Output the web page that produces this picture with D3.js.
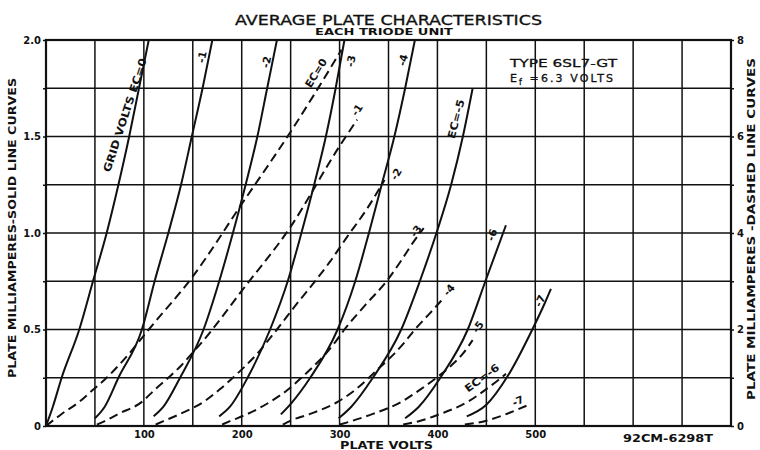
<!DOCTYPE html>
<html><head><meta charset="utf-8">
<script src="https://cdn.jsdelivr.net/npm/d3@7"></script>
<style>
html,body{margin:0;padding:0;background:#fff;}
svg{display:block;}
text{font-family:"DejaVu Sans",sans-serif;font-weight:bold;fill:#111;}
</style></head><body>
<svg id="chart" width="760" height="450"></svg>
<script>
// ---------- DATA ----------
const xTickValues = [100, 200, 300, 400, 500];
const leftTickValues = [0, 0.5, 1.0, 1.5, 2.0];
const leftTickLabels = ["0", "0.5", "1.0", "1.5", "2.0"];
const rightTickValues = [0, 2, 4, 6, 8];
const rightTickLabels = ["0", "2", "4", "6", "8"];

// Solid curves: plate volts vs plate mA (left axis, 0-2 mA)
const solidEc0 = [[0,0],[7,0.1],[16,0.25],[34,0.5],[48,0.75],[62,1.0],[74,1.25],[85,1.5],[95,1.75],[105,2.0]];
const solidEc1 = [[50,0.04],[60,0.1],[74,0.25],[98,0.5],[111,0.75],[125,1.0],[138,1.25],[149,1.5],[160,1.75],[170,2.0]];
const solidEc2 = [[110,0.05],[120,0.1],[137,0.25],[161,0.5],[177,0.75],[191,1.0],[204,1.25],[216,1.5],[226,1.75],[236,2.0]];
const solidEc3 = [[177,0.05],[188,0.1],[206,0.25],[229,0.5],[247,0.75],[261,1.0],[274,1.25],[286,1.5],[296,1.75],[305,2.0]];
const solidEc4 = [[240,0.06],[251,0.12],[270,0.25],[298,0.5],[316,0.75],[330,1.0],[343,1.25],[356,1.5],[367,1.75],[377,2.0]];
const solidEc5 = [[299,0.04],[312,0.1],[334,0.25],[363,0.5],[382,0.75],[399,1.0],[414,1.25],[426,1.5],[436,1.75]];
const solidEc6 = [[367,0.04],[381,0.1],[403,0.25],[431,0.5],[449,0.75],[470,1.04]];
const solidEc7 = [[430,0.05],[450,0.11],[472,0.26],[497,0.5],[510,0.64],[516,0.71]];

// Dashed curves: plate volts vs plate mA (right axis, 0-8 mA)
const dashEc0 = [[0,0],[16,0.25],[34,0.5],[48,0.75],[62,1.0],[74,1.25],[85,1.5],[95,1.75],[105,2.0],[150,3.1],[200,4.6],[250,6.1],[275,6.9],[302,7.8]];
const dashEc1 = [[52,0.03],[60,0.1],[74,0.25],[98,0.5],[111,0.75],[125,1.0],[138,1.25],[149,1.5],[160,1.75],[170,2.0],[200,2.8],[249,4.1],[300,5.8],[318,6.35]];
const dashEc2 = [[112,0.03],[120,0.1],[137,0.25],[161,0.5],[177,0.75],[191,1.0],[204,1.25],[216,1.5],[226,1.75],[236,2.0],[255,2.5],[273,2.95],[290,3.4],[307,3.9],[328,4.5],[346,5.1]];
const dashEc3 = [[180,0.03],[188,0.1],[206,0.25],[229,0.5],[247,0.75],[261,1.0],[274,1.25],[286,1.5],[296,1.75],[305,2.0],[326,2.5],[348,3.0],[362,3.4],[375,3.8],[386,4.1]];
const dashEc4 = [[242,0.03],[251,0.12],[270,0.25],[298,0.5],[316,0.75],[330,1.0],[343,1.25],[356,1.5],[367,1.75],[377,2.0],[392,2.33],[404,2.6]];
const dashEc5 = [[300,0.03],[312,0.1],[334,0.25],[363,0.5],[382,0.75],[399,1.0],[414,1.25],[426,1.5],[436,1.78]];
const dashEc6 = [[365,0.03],[381,0.1],[403,0.25],[431,0.5],[449,0.75],[462,0.95],[470,1.08]];
const dashEc7 = [[428,0.03],[450,0.11],[472,0.26],[491,0.42]];

const solidSeries = [solidEc0, solidEc1, solidEc2, solidEc3, solidEc4, solidEc5, solidEc6, solidEc7];
const dashSeries = [dashEc0, dashEc1, dashEc2, dashEc3, dashEc4, dashEc5, dashEc6, dashEc7];

const solidLabels = ["GRID VOLTS EC=0", "-1", "-2", "-3", "-4", "EC=-5", "-6", "-7"];
const dashLabels = ["EC=0", "-1", "-2", "-3", "-4", "-5", "EC=-6", "-7"];

// ---------- DRAW ----------
const svg = d3.select("#chart");
const x = d3.scaleLinear().domain([0, 700]).range([46, 731]);
const yL = d3.scaleLinear().domain([0, 2]).range([426, 40]);
const yR = d3.scaleLinear().domain([0, 8]).range([426, 40]);
const ink = "#111";

// grid
const g = svg.append("g");
g.selectAll("line.v").data(d3.range(50, 700, 50)).enter().append("line")
  .attr("x1", d => x(d)).attr("x2", d => x(d))
  .attr("y1", yL(0)).attr("y2", yL(2))
  .attr("stroke", ink).attr("stroke-width", 1.5);
g.selectAll("line.h").data(d3.range(0.25, 2, 0.25)).enter().append("line")
  .attr("x1", x(0)).attr("x2", x(700))
  .attr("y1", d => yL(d)).attr("y2", d => yL(d))
  .attr("stroke", ink).attr("stroke-width", 1.5);
g.append("rect").attr("x", x(0)).attr("y", yL(2))
  .attr("width", x(700) - x(0)).attr("height", yL(0) - yL(2))
  .attr("fill", "none").attr("stroke", ink).attr("stroke-width", 2.2);

// axes
const styleAxis = sel => {
  sel.select(".domain").remove();
  sel.selectAll(".tick line").attr("stroke", ink).attr("stroke-width", 1.5);
  sel.selectAll("text").style("font-family", '"DejaVu Sans",sans-serif')
    .style("font-weight", "bold").style("font-size", "10px").attr("fill", ink);
};
svg.append("g").attr("transform", `translate(${x(0)},0)`)
  .call(d3.axisLeft(yL).tickValues(d3.range(0, 2.01, 0.25)).tickSize(3).tickPadding(2)
    .tickFormat(d => { const k = leftTickValues.findIndex(v => Math.abs(v - d) < 1e-6); return k >= 0 ? leftTickLabels[k] : ""; }))
  .call(styleAxis);
svg.append("g").attr("transform", `translate(${x(700)},0)`)
  .call(d3.axisRight(yR).tickValues(d3.range(0, 8.01, 1)).tickSize(3).tickPadding(3)
    .tickFormat(d => { const k = rightTickValues.indexOf(d); return k >= 0 ? rightTickLabels[k] : ""; }))
  .call(styleAxis);
svg.append("g").attr("transform", `translate(0,${yL(0)})`)
  .call(d3.axisBottom(x).tickValues(xTickValues).tickSize(0).tickPadding(5))
  .call(styleAxis);

// curves
const lineL = d3.line().x(d => x(d[0])).y(d => yL(d[1])).curve(d3.curveMonotoneX);
const lineR = d3.line().x(d => x(d[0])).y(d => yR(d[1])).curve(d3.curveMonotoneX);
svg.append("g").selectAll("path").data(solidSeries).enter().append("path")
  .attr("d", lineL).attr("fill", "none").attr("stroke", ink).attr("stroke-width", 2);
svg.append("g").selectAll("path").data(dashSeries).enter().append("path")
  .attr("d", lineR).attr("fill", "none").attr("stroke", ink).attr("stroke-width", 2)
  .attr("stroke-dasharray", "9,5");

// curve labels: [volts, mA, angle, textLength]
const solidLabelPos = [[80.7,1.611,-72,119],[159.4,1.912,-78,0],[225.3,1.886,-78,0],[311.7,1.891,-78,0],[364.8,1.896,-76,0],[419,1.591,-75,40],[455.8,0.99,-70,0],[504.8,0.648,-65,0]];
const dashLabelPos = [[275.9,7.316,-58,32],[317.8,6.55,-56,0],[357.7,5.223,-59,0],[378.1,4.041,-53,0],[411.8,2.819,-49,0],[441.4,2.052,-54,0],[445.5,0.995,-36,40],[482.3,0.518,-24,0]];
function addLabel(txt, px, py, ang, len) {
  const t = svg.append("text")
    .attr("transform", `translate(${px},${py}) rotate(${ang})`)
    .attr("text-anchor", "middle").attr("dy", "0.35em")
    .style("font-size", "10.5px").text(txt);
  if (len) t.attr("textLength", len).attr("lengthAdjust", "spacingAndGlyphs");
}
solidLabels.forEach((s, i) => { const p = solidLabelPos[i]; addLabel(s, x(p[0]), yL(p[1]), p[2], p[3]); });
dashLabels.forEach((s, i) => { const p = dashLabelPos[i]; addLabel(s, x(p[0]), yR(p[1]), p[2], p[3]); });

// titles and notes
svg.append("text").attr("x", 235).attr("y", 25).attr("textLength", 307).attr("lengthAdjust", "spacingAndGlyphs")
  .style("font-size", "14px").style("font-weight", "normal").style("stroke", ink).style("stroke-width", "0.3")
  .text("AVERAGE PLATE CHARACTERISTICS");
svg.append("text").attr("x", 315).attr("y", 35).attr("textLength", 138).attr("lengthAdjust", "spacingAndGlyphs")
  .style("font-size", "8.5px").text("EACH TRIODE UNIT");
svg.append("text").attr("x", 510).attr("y", 67).attr("textLength", 107).attr("lengthAdjust", "spacingAndGlyphs")
  .style("font-size", "11px").style("font-weight", "normal").style("stroke", ink).style("stroke-width", "0.3")
  .text("TYPE 6SL7-GT");
const ef = svg.append("text").attr("x", 510).attr("y", 82).attr("textLength", 103).attr("lengthAdjust", "spacing")
  .style("font-size", "11px").style("font-weight", "normal").style("stroke", ink).style("stroke-width", "0.3");
ef.append("tspan").text("E");
ef.append("tspan").attr("dy", 3).style("font-size", "8px").text("f");
ef.append("tspan").attr("dy", -3).text(" =6.3 VOLTS");
svg.append("text").attr("x", 340).attr("y", 449).attr("textLength", 93).attr("lengthAdjust", "spacingAndGlyphs")
  .style("font-size", "10px").text("PLATE VOLTS");
svg.append("text").attr("x", 623).attr("y", 442).attr("textLength", 90).attr("lengthAdjust", "spacingAndGlyphs")
  .style("font-size", "10px").text("92CM-6298T");
svg.append("text").attr("transform", "translate(16,228) rotate(-90)").attr("text-anchor", "middle")
  .attr("textLength", 300).attr("lengthAdjust", "spacingAndGlyphs")
  .style("font-size", "10px").text("PLATE MILLIAMPERES-SOLID LINE CURVES");
svg.append("text").attr("transform", "translate(755,229) rotate(-90)").attr("text-anchor", "middle")
  .attr("textLength", 342).attr("lengthAdjust", "spacingAndGlyphs")
  .style("font-size", "10px").text("PLATE MILLIAMPERES -DASHED LINE CURVES");
</script></body></html>
